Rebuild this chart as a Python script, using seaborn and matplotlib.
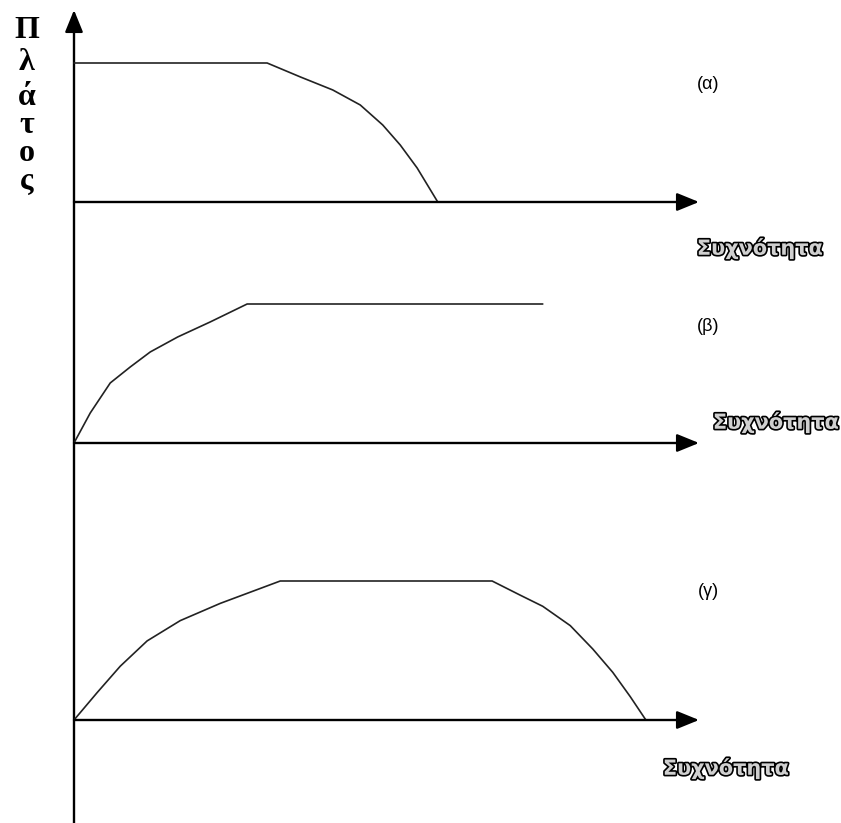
import matplotlib
matplotlib.use("Agg")
import matplotlib.pyplot as plt
import matplotlib.patheffects as pe
import seaborn as sns
import pandas as pd

# ---- data (frequency in arbitrary units, amplitude normalised 0..1) ----
alpha_freq = [0.0, 3.09, 3.62, 4.14, 4.58, 4.94, 5.22, 5.49, 5.82]
alpha_amp = [1.0, 1.0, 0.90, 0.806, 0.698, 0.554, 0.41, 0.245, 0.0]

beta_freq = [0.0, 0.26, 0.58, 0.90, 1.22, 1.66, 2.18, 2.77, 7.5]
beta_amp = [0.0, 0.216, 0.432, 0.547, 0.655, 0.763, 0.871, 1.0, 1.0]

gamma_freq = [0.0, 0.37, 0.74, 1.17, 1.70, 2.34, 3.30, 6.69, 7.14, 7.5, 7.94, 8.30, 8.62, 8.90, 9.15]
gamma_amp = [0.0, 0.197, 0.387, 0.569, 0.715, 0.839, 1.0, 1.0, 0.898, 0.818, 0.679, 0.511, 0.343, 0.168, 0.0]

panel_labels = ["(α)", "(β)", "(γ)"]
x_label = "Συχνότητα"
y_label = "Πλάτος"
axis_end_freq = 10.0

# ---- layout ----
W, H = 841, 823
sns.set_theme(style="white")
fig = plt.figure(figsize=(W / 100, H / 100), dpi=100)
fig.patch.set_facecolor("white")

x0_px = 74.0
px_per_f = 62.5
px_per_a = 139.0
baselines = [202.0, 443.0, 720.0]

base = fig.add_axes([0, 0, 1, 1])
base.set_xlim(0, W)
base.set_ylim(H, 0)
base.axis("off")

frames = [
    pd.DataFrame({"f": alpha_freq, "a": alpha_amp}),
    pd.DataFrame({"f": beta_freq, "a": beta_amp}),
    pd.DataFrame({"f": gamma_freq, "a": gamma_amp}),
]

arrow_kw = dict(arrowstyle="-|>,head_length=1.35,head_width=0.55",
                mutation_scale=10, lw=1.7, color="black",
                shrinkA=0, shrinkB=0)

for df, y0 in zip(frames, baselines):
    ax = fig.add_axes([0, 0, 1, 1])
    ax.patch.set_alpha(0)
    ax.set_xlim(-x0_px / px_per_f, (W - x0_px) / px_per_f)
    ax.set_ylim((y0 - H) / px_per_a, y0 / px_per_a)
    ax.axis("off")
    sns.lineplot(data=df, x="f", y="a", ax=ax, sort=False, estimator=None,
                 color="#222222", lw=1.2)
    ax.annotate("", xy=(axis_end_freq, 0), xytext=(0, 0), arrowprops=arrow_kw)

# vertical amplitude axis
base.annotate("", xy=(x0_px, 10), xytext=(x0_px, H), arrowprops=arrow_kw)

# vertical stacked y label
letter_y = [38, 70, 105, 133, 161, 189]
for ch, yy in zip(list(y_label), letter_y):
    base.text(27, yy, ch, ha="center", va="baseline", fontsize=23,
              fontweight="bold", family="Liberation Serif", color="black")

# panel labels
for lab, (lx, ly) in zip(panel_labels, [(708, 84), (708, 326), (708, 591)]):
    base.text(lx, ly, lab, ha="center", va="center", fontsize=13,
              family="Liberation Sans", color="black")

# outlined frequency labels
for (tx, ty) in [(760, 248), (776, 422), (726, 768)]:
    t = base.text(tx, ty, x_label, ha="center", va="center", fontsize=15,
                  fontweight="bold", family="DejaVu Sans", color="#d0d0d0")
    t.set_path_effects([pe.Stroke(linewidth=2.4, foreground="black"), pe.Normal()])

fig.savefig("out.png", dpi=100, facecolor="white")
